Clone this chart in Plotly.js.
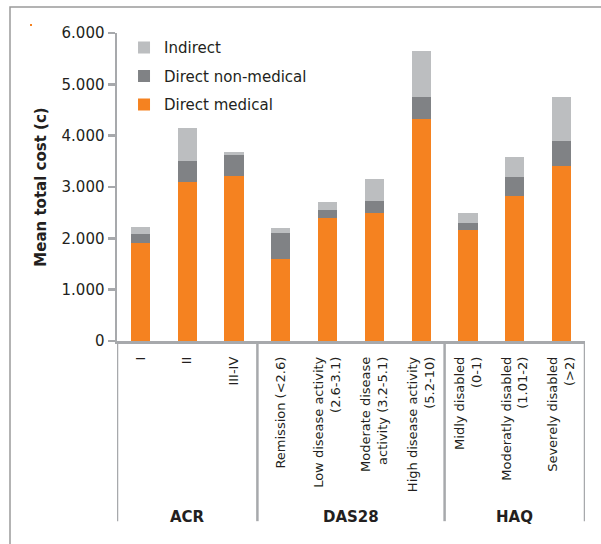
<!DOCTYPE html>
<html><head><meta charset="utf-8">
<script src="https://cdn.plot.ly/plotly-3.0.1.min.js"></script>
<style>html,body{margin:0;padding:0;background:#fff;}</style>
</head><body><div id="chart" style="width:601px;height:544px;"></div>
<script>
const categories = ["I", "II", "III-IV", "Remission (&lt;2.6)", "Low disease activity<br>(2.6-3.1)", "Moderate disease<br>activity (3.2-5.1)", "High disease activity<br>(5.2-10)", "Midly disabled<br>(0-1)", "Moderatly disabled<br>(1.01-2)", "Severely disabled<br>(&gt;2)"];
const groups = ["ACR", "ACR", "ACR", "DAS28", "DAS28", "DAS28", "DAS28", "HAQ", "HAQ", "HAQ"];
const directMedical = [1900, 3100, 3220, 1600, 2400, 2500, 4330, 2170, 2820, 3400];
const directNonMedical = [180, 400, 400, 500, 160, 230, 420, 120, 380, 500];
const indirect = [150, 650, 60, 100, 140, 420, 900, 210, 380, 850];
const yTicks = [0, 1000, 2000, 3000, 4000, 5000, 6000];

const AXIS = "#a7a9ac";
const TXT = "#231f20";
const FONT = "DejaVu Sans";

const mk = (name, y, color, rank) => ({
  type: "bar", name: name, x: categories, y: y, legendgroup: name, legendrank: rank,
  marker: {color: color, line: {width: 0}}, width: 0.41, hoverinfo: "y"
});
const data = [
  mk("Direct medical", directMedical, "#f58220", 3),
  mk("Direct non-medical", directNonMedical, "#808285", 2),
  mk("Indirect", indirect, "#bcbec0", 1)
];

// group separators and labels, computed from group membership
const shapes = [];
const annotations = [];
const sepBottom = -0.585;
let start = 0;
for (let i = 1; i <= groups.length; i++) {
  if (i === groups.length || groups[i] !== groups[start]) {
    shapes.push({type: "line", xref: "x", yref: "paper", x0: start - 0.5, x1: start - 0.5, y0: 0, y1: sepBottom, line: {color: AXIS, width: 2.5}});
    annotations.push({xref: "x", yref: "paper", x: (start + i - 1) / 2, y: -0.571, text: "<b>" + groups[start] + "</b>", showarrow: false, font: {family: FONT, size: 15, color: TXT}, yanchor: "middle"});
    start = i;
  }
}
shapes.push({type: "line", xref: "x", yref: "paper", x0: groups.length - 0.5, x1: groups.length - 0.5, y0: 0, y1: sepBottom, line: {color: AXIS, width: 2.5}});
// outer frame
shapes.push({type: "rect", xref: "paper", yref: "paper", x0: (10 - 117) / 468, x1: 1.2, y0: -1.0, y1: (341 - 7) / 308, line: {color: "#9a9a9a", width: 1.5}, fillcolor: "rgba(0,0,0,0)", layer: "below"});
// small orange mark
shapes.push({type: "rect", xref: "paper", yref: "paper", x0: (30 - 117) / 468, x1: (32 - 117) / 468, y0: (341 - 26) / 308, y1: (341 - 24) / 308, line: {width: 0}, fillcolor: "#f58220"});

const layout = {
  width: 601, height: 544,
  margin: {l: 117, r: 16, t: 33, b: 203},
  paper_bgcolor: "#fff", plot_bgcolor: "#fff",
  barmode: "stack",
  separators: ",.",
  font: {family: FONT, color: TXT},
  showlegend: true,
  legend: {x: 0.015, y: 1.006, xanchor: "left", yanchor: "top", traceorder: "grouped", tracegroupgap: 6, font: {family: FONT, size: 15, color: TXT}, bgcolor: "rgba(0,0,0,0)"},
  xaxis: {
    type: "category", range: [-0.5, 9.5], showline: true, linecolor: AXIS, linewidth: 2.5,
    ticks: "", tickangle: -90, ticklabelstandoff: 8, tickfont: {family: FONT, size: 13, color: TXT},
    showgrid: false, zeroline: false, fixedrange: true
  },
  yaxis: {
    range: [0, 6000], tickvals: yTicks, tickformat: ",.0f", showline: true, linecolor: AXIS, linewidth: 2.5,
    ticks: "outside", ticklen: 7, tickwidth: 2.5, tickcolor: AXIS,
    tickfont: {family: FONT, size: 15, color: TXT}, showgrid: false, zeroline: false,
    title: {text: "<b>Mean total cost (c)</b>", font: {family: FONT, size: 15, color: TXT}, standoff: 12},
    fixedrange: true
  },
  shapes: shapes,
  annotations: annotations
};
Plotly.newPlot("chart", data, layout, {displayModeBar: false, staticPlot: true});
</script>
</body></html>
